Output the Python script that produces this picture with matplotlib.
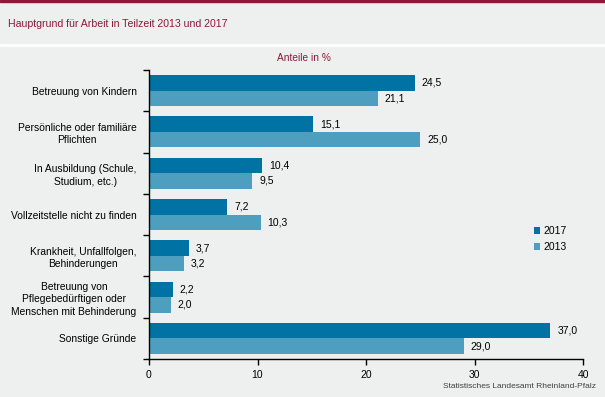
import matplotlib
matplotlib.use("Agg")
import matplotlib.pyplot as plt
from matplotlib.patches import Rectangle
import numpy as np

plt.rcParams['font.family'] = ['Liberation Sans', 'DejaVu Sans']

categories = [
    "Betreuung von Kindern",
    "Persönliche oder familiäre\nPflichten",
    "In Ausbildung (Schule,\nStudium, etc.)",
    "Vollzeitstelle nicht zu finden",
    "Krankheit, Unfallfolgen,\nBehinderungen",
    "Betreuung von\nPflegebedürftigen oder\nMenschen mit Behinderung",
    "Sonstige Gründe",
]
values_2017 = [24.5, 15.1, 10.4, 7.2, 3.7, 2.2, 37.0]
values_2013 = [21.1, 25.0, 9.5, 10.3, 3.2, 2.0, 29.0]
series_labels = ["2017", "2013"]
xticks = [0, 10, 20, 30, 40]

c2017 = "#0072A3"
c2013 = "#4E9EC0"
bg = "#EEEFEF"
red = "#8B1A3A"

W, H = 605, 397
fig = plt.figure(figsize=(W / 100, H / 100), dpi=100)
fig.patch.set_facecolor("white")

# background bands
fig.add_artist(Rectangle((0, 1 - 43 / H), 1, 41 / H, transform=fig.transFigure, color=bg, zorder=0))
fig.add_artist(Rectangle((0, 0), 1, 1 - 47 / H, transform=fig.transFigure, color=bg, zorder=0))
fig.add_artist(Rectangle((0, 1 - 2 / H), 1, 2 / H, transform=fig.transFigure, color=red, zorder=1))

fig.text(8 / W, 1 - 24 / H, "Hauptgrund für Arbeit in Teilzeit 2013 und 2017",
         color=red, fontsize=7.6, va="center", ha="left")
fig.text(304 / W, 1 - 58 / H, "Anteile in %", color=red, fontsize=7.3, va="center", ha="center")
fig.text(596 / W, 1 - 387 / H, "Statistisches Landesamt Rheinland-Pfalz",
         color="#404040", fontsize=6, va="center", ha="right")

ax = fig.add_axes([149 / W, 1 - 359 / H, (583 - 149) / W, (359 - 70) / H])
ax.set_facecolor("none")

n = len(categories)
y = np.arange(n)
h = 0.375
ax.barh(y - h / 2, values_2017, height=h, color=c2017, label=series_labels[0])
ax.barh(y + h / 2, values_2013, height=h, color=c2013, label=series_labels[1])

for yi, v in zip(y, values_2017):
    ax.annotate(f"{v:.1f}".replace(".", ","), (v, yi - h / 2), xytext=(5, 0),
                textcoords="offset points", va="center", ha="left", fontsize=7.5)
for yi, v in zip(y, values_2013):
    ax.annotate(f"{v:.1f}".replace(".", ","), (v, yi + h / 2), xytext=(5, 0),
                textcoords="offset points", va="center", ha="left", fontsize=7.5)

ax.set_ylim(n - 0.5, -0.5)
ax.set_xlim(0, 40)
ax.set_xticks(xticks)
ax.set_xticklabels([str(t) for t in xticks], fontsize=7.5)
ax.set_yticks(np.arange(-0.5, n, 1.0))
ax.set_yticklabels([])
ax.set_yticks(y, minor=True)
ax.set_yticklabels(categories, minor=True, fontsize=7.4, linespacing=1.3, multialignment="center")
ax.tick_params(axis="y", which="minor", length=0, pad=9)
ax.tick_params(axis="y", which="major", length=4, width=1, direction="out")
ax.tick_params(axis="x", length=4, width=1, direction="out", pad=4)
for s in ["top", "right"]:
    ax.spines[s].set_visible(False)
ax.spines["left"].set_linewidth(1)
ax.spines["bottom"].set_linewidth(1)

ax.legend(loc="upper left", bbox_to_anchor=((530 - 149) / (583 - 149), 1 - (222 - 70) / (359 - 70)),
          frameon=False, fontsize=7.5, handlelength=0.6, handleheight=0.6, handletextpad=0.3,
          labelspacing=0.6, borderaxespad=0)

fig.savefig("out.png", dpi=100, facecolor=fig.get_facecolor())
